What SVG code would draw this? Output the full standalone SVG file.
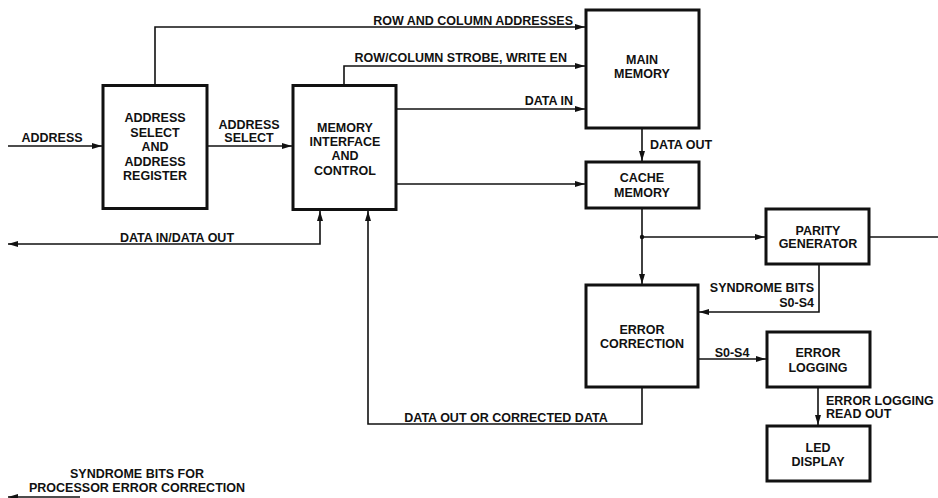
<svg xmlns="http://www.w3.org/2000/svg" width="938" height="498" viewBox="0 0 938 498">
<style>
.box{fill:none;stroke:#111;stroke-width:3}
.ln{fill:none;stroke:#111;stroke-width:1.6}
text{font-family:"Liberation Sans",Arial,sans-serif;font-weight:bold;font-size:12.5px;fill:#111}
.c{text-anchor:middle}
.e{text-anchor:end}
</style>
<defs>
<marker id="ah" viewBox="0 0 10 6" refX="10" refY="3" markerWidth="10" markerHeight="6" markerUnits="userSpaceOnUse" orient="auto-start-reverse">
<path d="M0,0 L10,3 L0,6 Z" fill="#111"/>
</marker>
</defs>
<rect width="938" height="498" fill="#fff"/>
<g id="connectors">
<path class="ln" d="M8,146 H102" marker-end="url(#ah)"/>
<path class="ln" d="M208,146 H292" marker-end="url(#ah)"/>
<path class="ln" d="M155,85 V27 H585" marker-end="url(#ah)"/>
<path class="ln" d="M344,85 V66 H585" marker-end="url(#ah)"/>
<path class="ln" d="M397,109 H585" marker-end="url(#ah)"/>
<path class="ln" d="M397,184 H585" marker-end="url(#ah)"/>
<path class="ln" d="M642,129 V161" marker-end="url(#ah)"/>
<path class="ln" d="M642,209 V284" marker-end="url(#ah)"/>
<circle cx="642" cy="237" r="2.2" fill="#111"/>
<path class="ln" d="M642,237 H765" marker-end="url(#ah)"/>
<path class="ln" d="M870,237 H938"/>
<path class="ln" d="M819,265 V312 H699" marker-end="url(#ah)"/>
<path class="ln" d="M699,359 H766" marker-end="url(#ah)"/>
<path class="ln" d="M818,388 V425" marker-end="url(#ah)"/>
<path class="ln" d="M642,388 V424 H368 V211" marker-end="url(#ah)"/>
<path class="ln" d="M320,211 V244 H8" marker-start="url(#ah)" marker-end="url(#ah)"/>
<path class="ln" d="M80,497 H8" marker-end="url(#ah)"/>
</g>
<g id="address-register">
<rect class="box" x="103" y="85.5" width="104" height="123"/>
<text class="c" x="155" y="121.5">ADDRESS</text>
<text class="c" x="155" y="136.5">SELECT</text>
<text class="c" x="155" y="150.5">AND</text>
<text class="c" x="155" y="165.5">ADDRESS</text>
<text class="c" x="155" y="179.5">REGISTER</text>
</g>
<g id="memory-interface">
<rect class="box" x="293" y="85.5" width="103" height="124"/>
<text class="c" x="345" y="131.5">MEMORY</text>
<text class="c" x="345" y="145.5">INTERFACE</text>
<text class="c" x="345" y="159.5">AND</text>
<text class="c" x="345" y="174.5">CONTROL</text>
</g>
<g id="main-memory">
<rect class="box" x="586" y="10" width="113" height="118"/>
<text class="c" x="642" y="63.5">MAIN</text>
<text class="c" x="642" y="77.5">MEMORY</text>
</g>
<g id="cache-memory">
<rect class="box" x="586" y="162" width="113" height="46"/>
<text class="c" x="642" y="181.5">CACHE</text>
<text class="c" x="642" y="196.5">MEMORY</text>
</g>
<g id="parity-generator">
<rect class="box" x="766" y="209" width="103" height="55"/>
<text class="c" x="818" y="234.5">PARITY</text>
<text class="c" x="818" y="247.5">GENERATOR</text>
</g>
<g id="error-correction">
<rect class="box" x="586" y="285" width="112" height="102"/>
<text class="c" x="642" y="333.5">ERROR</text>
<text class="c" x="642" y="347.5">CORRECTION</text>
</g>
<g id="error-logging">
<rect class="box" x="767" y="332" width="103" height="55"/>
<text class="c" x="818" y="356.5">ERROR</text>
<text class="c" x="818" y="371.5">LOGGING</text>
</g>
<g id="led-display">
<rect class="box" x="767" y="426" width="103" height="55"/>
<text class="c" x="818" y="451.5">LED</text>
<text class="c" x="818" y="465.5">DISPLAY</text>
</g>
<g id="labels">
<text class="c" x="52" y="141.5">ADDRESS</text>
<text class="c" x="249" y="128.5">ADDRESS</text>
<text class="c" x="249" y="141.5">SELECT</text>
<text class="e" x="573" y="24.5">ROW AND COLUMN ADDRESSES</text>
<text class="e" x="567" y="61.5">ROW/COLUMN STROBE, WRITE EN</text>
<text class="e" x="573" y="104.5">DATA IN</text>
<text x="650" y="148.5">DATA OUT</text>
<text class="e" x="814" y="291.5">SYNDROME BITS</text>
<text class="e" x="814" y="306.5">S0-S4</text>
<text class="c" x="732" y="356.5">S0-S4</text>
<text x="826" y="404.5">ERROR LOGGING</text>
<text x="826" y="417.5">READ OUT</text>
<text class="c" x="506" y="421.5">DATA OUT OR CORRECTED DATA</text>
<text class="c" x="177" y="241.5">DATA IN/DATA OUT</text>
<text class="c" x="137" y="478">SYNDROME BITS FOR</text>
<text class="c" x="137" y="492">PROCESSOR ERROR CORRECTION</text>
</g>
</svg>
